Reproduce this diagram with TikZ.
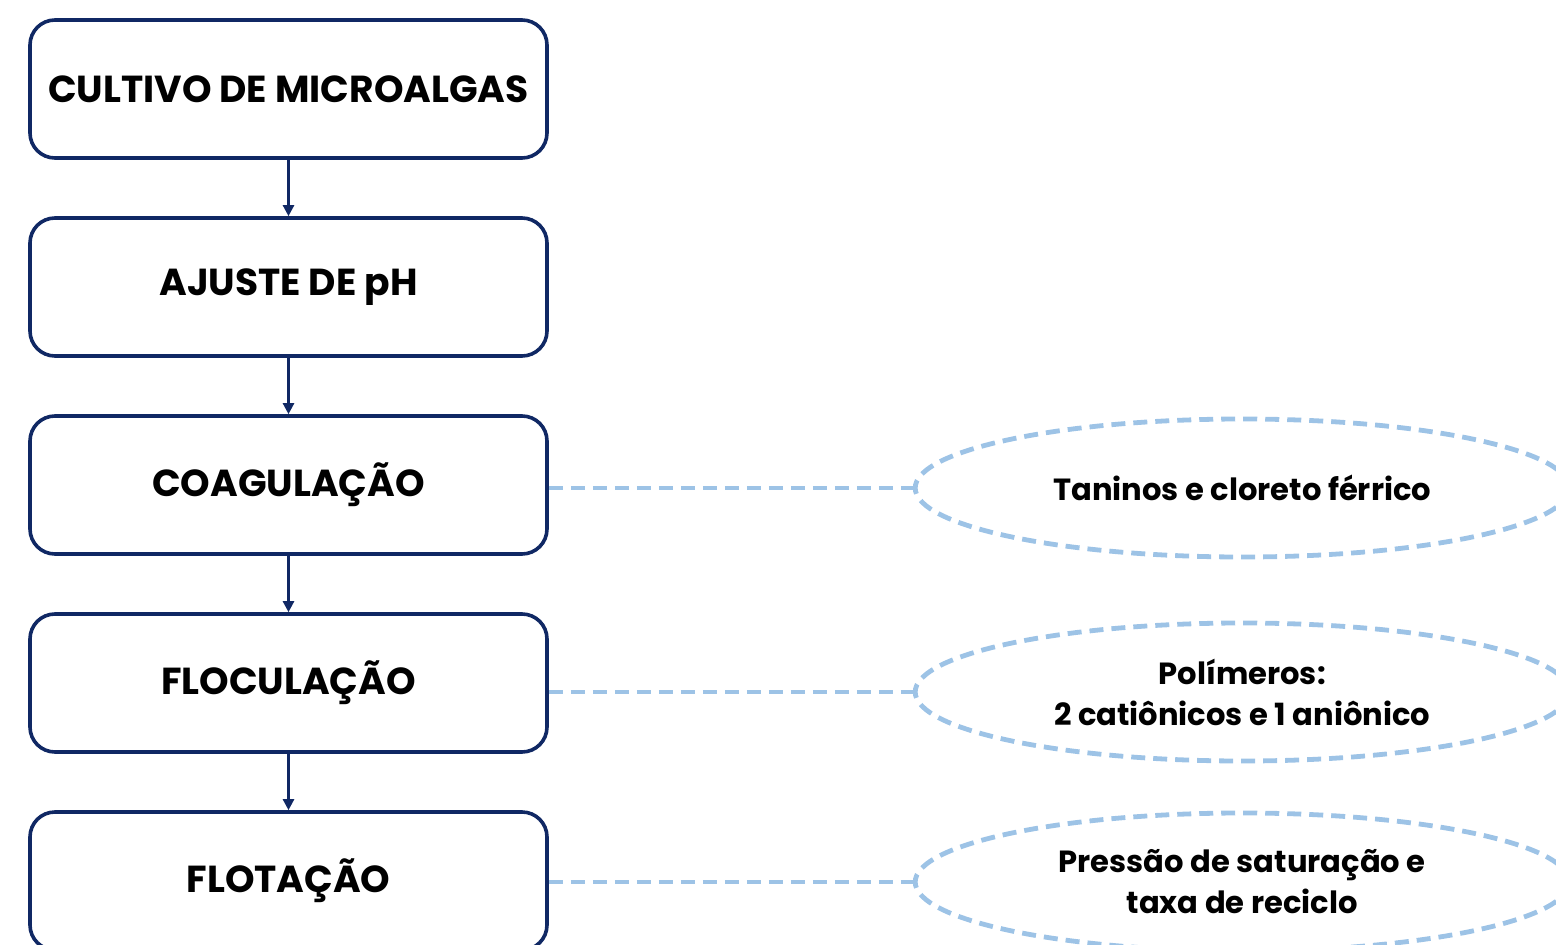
\documentclass[tikz,border=0pt]{standalone}
\usepackage{fontspec}
\setmainfont{Poppins}
\usetikzlibrary{positioning,shapes.geometric,arrows.meta}
\definecolor{navy}{RGB}{16,40,100}
\definecolor{lightblue}{RGB}{157,195,230}
\begin{document}
\begin{tikzpicture}[etapa/.style={draw=navy,line width=1.8pt,rounded corners=12.5pt,
				minimum width=258.5pt,minimum height=69pt,font=\bfseries\fontsize{18.8}{22}\selectfont},
				insumo/.style={ellipse,draw=lightblue,line width=2.4pt,dash pattern=on 7pt off 4pt,
				minimum width=327pt,minimum height=69pt,inner sep=0pt,align=center,
				font=\bfseries\fontsize{15.3}{20.5}\selectfont},
				ligacao/.style={draw=lightblue,line width=2.4pt,dash pattern=on 7pt off 4pt},
				fluxo/.style={draw=navy,line width=1.2pt,-{Triangle[length=5.5pt,width=5.5pt]}},
				node distance=28.2pt]
\useasboundingbox (0,0) rectangle (778pt,472pt);
\node[etapa] (cultivo) at (144.25pt,427.5pt) {CULTIVO DE MICROALGAS};
\node[etapa,below=of cultivo] (ajuste) {AJUSTE DE pH};
\node[etapa,below=of ajuste] (coag) {COAGULAÇÃO};
\node[etapa,below=of coag] (floc) {FLOCULAÇÃO};
\node[etapa,below=of floc] (flot) {FLOTAÇÃO};
\node[insumo,right=182pt of coag,yshift=-1.5pt] (taninos) {Taninos e cloreto férrico};
\node[insumo,right=182pt of floc,yshift=-4.5pt] (polimeros) {Polímeros:\\2 catiônicos e 1 aniônico};
\node[insumo,right=182pt of flot,yshift=-0.5pt] (pressao) {Pressão de saturação e\\taxa de reciclo};
\draw[fluxo] (cultivo.south) -- (ajuste.north);
\draw[fluxo] (ajuste.south) -- (coag.north);
\draw[fluxo] (coag.south) -- (floc.north);
\draw[fluxo] (floc.south) -- (flot.north);
\draw[ligacao] (coag.east |- taninos.west) -- (taninos.west);
\draw[ligacao] (floc.east |- polimeros.west) -- (polimeros.west);
\draw[ligacao] (flot.east |- pressao.west) -- (pressao.west);
\end{tikzpicture}
\end{document}
